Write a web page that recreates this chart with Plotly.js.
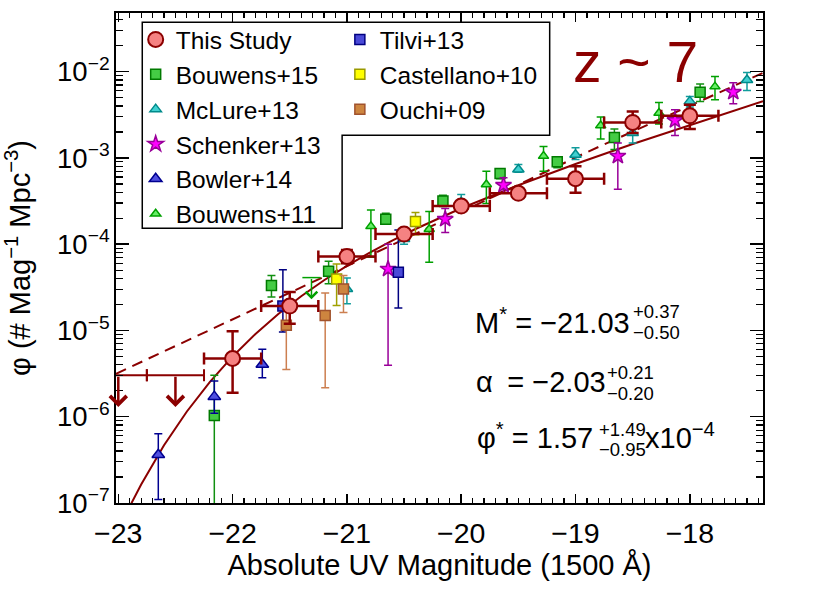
<!DOCTYPE html>
<html>
<head>
<meta charset="utf-8">
<script src="https://cdn.plot.ly/plotly-3.0.1.min.js"></script>
<style>html,body{margin:0;padding:0;background:#fff;}#lf{width:830px;height:593px;}</style>
</head>
<body>
<div id="lf"></div>
<script>
// z~7 UV luminosity function
var LF = document.getElementById('lf');

// This Study (binned points, x bins are +-0.25 mag)
var tsM = [-22.0, -21.5, -21.0, -20.5, -20.0, -19.5, -19.0, -18.5, -18.0];
var tsPhi = [4.73e-6, 1.92e-5, 7.2e-5, 1.31e-4, 2.77e-4, 3.89e-4, 5.74e-4, 2.58e-3, 3.08e-3];
var tsUp = [9.8e-6, 2.79e-5, 8.55e-5, 1.45e-4, 3.05e-4, 4.3e-4, 8.0e-4, 3.46e-3, 4.13e-3];
var tsDn = [1.9e-6, 1.2e-5, 6.0e-5, 1.17e-4, 2.5e-4, 3.5e-4, 3.96e-4, 1.95e-3, 2.17e-3];
var tsBin = 0.25;
// This Study upper limits
var limM = [-23.0, -22.5];
var limPhi = [3.03e-6, 3.03e-6];
var limTip = [1.3e-6, 1.3e-6];

// Schechter fit (solid) and dashed fit
var fitM = [-23.0, -22.9, -22.8, -22.6, -22.4, -22.2, -22.0, -21.8, -21.6, -21.4, -21.2, -21.0, -20.8, -20.6, -20.4, -20.2, -20.0, -19.5, -19.0, -18.5, -18.0, -17.5, -17.36];
var fitPhi = [4.8e-8, 9.1e-8, 1.64e-7, 4.67e-7, 1.15e-6, 2.52e-6, 5.0e-6, 9.12e-6, 1.55e-5, 2.49e-5, 3.82e-5, 5.62e-5, 8.0e-5, 1.11e-4, 1.5e-4, 2.0e-4, 2.61e-4, 4.83e-4, 8.49e-4, 1.45e-3, 2.41e-3, 3.96e-3, 4.54e-3];
var dashM = [-23.02, -20.59, -18.91, -17.36];
var dashPhi = [3.15e-6, 1.0e-4, 1.15e-3, 9.7e-3];

// Bouwens+15
var b15M = [-22.16, -21.66, -21.16, -20.66, -20.16, -19.66, -19.16, -18.66, -17.91];
var b15Phi = [1.03e-6, 3.31e-5, 4.86e-5, 1.95e-4, 3.17e-4, 6.61e-4, 9.02e-4, 1.73e-3, 5.79e-3];
var b15Up = [3.03e-6, 4.33e-5, 6.34e-5, 2.29e-4, 3.69e-4, 7.34e-4, 1.03e-3, 2.17e-3, 7.21e-3];
var b15Dn = [1e-9, 2.44e-5, 3.47e-5, 1.71e-4, 2.73e-4, 5.74e-4, 7.69e-4, 1.25e-3, 4.51e-3];

// McLure+13
var m13M = [-21.0, -20.5, -20.0, -19.5, -19.0, -18.5, -18.0, -17.5];
var m13Phi = [3.03e-5, 1.15e-4, 3.06e-4, 7.34e-4, 1.09e-3, 1.95e-3, 4.52e-3, 8.0e-3];
var m13Up = [4.06e-5, 1.3e-4, 3.78e-4, 8.4e-4, 1.31e-3, 2.4e-3, 5.15e-3, 9.75e-3];
var m13Dn = [2.04e-5, 1.0e-4, 2.5e-4, 6.84e-4, 9.6e-4, 1.49e-3, 3.9e-3, 6.04e-3];

// Schenker+13
var s13M = [-20.64, -20.14, -19.63, -18.63, -18.13, -17.62];
var s13Phi = [5.16e-5, 1.95e-4, 4.84e-4, 1.05e-3, 2.72e-3, 5.79e-3];
var s13Up = [1.0e-4, 2.59e-4, 5.9e-4, 1.49e-3, 3.62e-3, 7.46e-3];
var s13Dn = [3.96e-6, 1.37e-4, 3.89e-4, 4.33e-4, 1.82e-3, 4.25e-3];

// Bowler+14
var bw14M = [-22.65, -22.16, -21.74];
var bw14Phi = [3.63e-7, 1.71e-6, 4.04e-6];
var bw14Up = [6.34e-7, 2.59e-6, 6.05e-6];
var bw14Dn = [1.1e-7, 1.1e-6, 2.83e-6];

// Bouwens+11 (plus one upper limit)
var b11M = [-20.79, -20.28, -19.78, -19.28, -18.78, -18.27, -17.78];
var b11Phi = [1.61e-4, 1.49e-4, 4.93e-4, 1.05e-3, 2.37e-3, 3.31e-3, 6.71e-3];
var b11Up = [2.49e-4, 2.39e-4, 7.03e-4, 1.36e-3, 2.98e-3, 4.4e-3, 8.77e-3];
var b11Dn = [7.05e-5, 6.17e-5, 2.96e-4, 7.03e-4, 1.66e-3, 2.48e-3, 4.72e-3];
var b11LimM = [-21.31];
var b11LimPhi = [4.1e-5];
var b11LimTip = [2.3e-5];

// Tilvi+13
var t13M = [-21.56, -20.55];
var t13Phi = [1.92e-5, 4.73e-5];
var t13Up = [5.07e-5, 1.46e-4];
var t13Dn = [9.6e-6, 1.82e-5];

// Castellano+10
var c10M = [-21.09, -20.40];
var c10Phi = [3.96e-5, 1.83e-4];
var c10Up = [5.9e-5, 2.33e-4];
var c10Dn = [1.95e-5, 1.29e-4];

// Ouchi+09
var o09M = [-21.53, -21.19, -21.03];
var o09Phi = [1.15e-5, 1.49e-5, 3.03e-5];
var o09Up = [2.0e-5, 2.71e-5, 4.33e-5];
var o09Dn = [3.53e-6, 2.17e-6, 1.61e-5];

var DARKRED = '#8B0000';

function ebar(phi, up, dn, color, thick, w) {
    return {
        type: 'data', symmetric: false,
        array: up.map(function (u, i) { return u - phi[i]; }),
        arrayminus: dn.map(function (d, i) { return phi[i] - d; }),
        color: color, thickness: thick, width: w
    };
}

function pts(name, M, phi, up, dn, sym, size, fill, edge, ecol, lg, rank) {
    return {
        x: M, y: phi, type: 'scatter', mode: 'markers', name: name,
        legend: lg, legendrank: rank,
        marker: {symbol: sym, size: size, color: fill, line: {color: edge, width: 1.5}},
        error_y: ebar(phi, up, dn, ecol, 1.5, 4)
    };
}

var solidFit = {
    x: fitM, y: fitPhi, type: 'scatter', mode: 'lines', showlegend: false,
    line: {color: DARKRED, width: 2}
};
var dashFit = {
    x: dashM, y: dashPhi, type: 'scatter', mode: 'lines', showlegend: false,
    line: {color: DARKRED, width: 2, dash: '11px,7px'}
};

var B11 = pts('Bouwens+11', b11M, b11Phi, b11Up, b11Dn, 'triangle-up', 9, '#66EE66', '#00A000', '#00A000', 'legend', 6);
var M13 = pts('McLure+13', m13M, m13Phi, m13Up, m13Dn, 'triangle-up', 10, '#40D0D0', '#008B8B', '#109C9C', 'legend', 3);
var B15 = pts('Bouwens+15', b15M, b15Phi, b15Up, b15Dn, 'square', 10, '#44CC44', '#007A00', '#109010', 'legend', 2);
var S13 = pts('Schenker+13', s13M, s13Phi, s13Up, s13Dn, 'star', 12, '#FF00FF', '#990099', '#990099', 'legend', 4);
var BW14 = pts('Bowler+14', bw14M, bw14Phi, bw14Up, bw14Dn, 'triangle-up', 11, '#5050E0', '#000090', '#000090', 'legend', 5);
var T13 = pts('Tilvi+13', t13M, t13Phi, t13Up, t13Dn, 'square', 10, '#4A4AD8', '#000080', '#000080', 'legend2', 1);
var C10 = pts('Castellano+10', c10M, c10Phi, c10Up, c10Dn, 'square', 10, '#FFFF00', '#999900', '#A0A000', 'legend2', 2);
var O09 = pts('Ouchi+09', o09M, o09Phi, o09Up, o09Dn, 'square', 10, '#CD853F', '#A0522D', '#CC7F50', 'legend2', 3);

var b11Cap = {
    x: b11LimM, y: b11LimPhi, type: 'scatter', mode: 'markers', showlegend: false,
    marker: {symbol: 'line-ew', size: 13, color: '#00A000', line: {color: '#00A000', width: 1.5}}
};

var limits = {
    x: limM, y: limPhi, type: 'scatter', mode: 'markers', showlegend: false,
    marker: {size: 1, opacity: 0},
    error_x: {type: 'constant', value: tsBin, color: DARKRED, thickness: 2, width: 6}
};

var thisStudy = {
    x: tsM, y: tsPhi, type: 'scatter', mode: 'markers', name: 'This Study',
    legend: 'legend', legendrank: 1,
    marker: {symbol: 'circle', size: 15, color: '#F58282', line: {color: DARKRED, width: 2}},
    error_x: {type: 'constant', value: tsBin, color: DARKRED, thickness: 2.5, width: 6},
    error_y: ebar(tsPhi, tsUp, tsDn, DARKRED, 2.5, 6)
};

var data = [dashFit, solidFit, B11, M13, B15, S13, BW14, T13, C10, O09, b11Cap, limits, thisStudy];

// downward arrows for upper limits
var arrows = [];
limM.forEach(function (m, i) {
    arrows.push({x: m, y: Math.log10(limTip[i]), ax: m, ay: Math.log10(limPhi[i]),
        xref: 'x', yref: 'y', axref: 'x', ayref: 'y', text: '', showarrow: true,
        arrowhead: 4, arrowsize: 1.3, arrowwidth: 2.5, arrowcolor: DARKRED, standoff: 0, startstandoff: 0});
});
b11LimM.forEach(function (m, i) {
    arrows.push({x: m, y: Math.log10(b11LimTip[i]), ax: m, ay: Math.log10(b11LimPhi[i]),
        xref: 'x', yref: 'y', axref: 'x', ayref: 'y', text: '', showarrow: true,
        arrowhead: 4, arrowsize: 1.5, arrowwidth: 1.5, arrowcolor: '#00A000', standoff: 0, startstandoff: 0});
});

function note(text, x, y, size, anchor, color) {
    return {text: text, x: x, y: y, xref: 'paper', yref: 'paper', showarrow: false,
        xanchor: anchor || 'left', yanchor: 'middle',
        font: {size: size, color: color || 'black'}};
}

var notes = [
    note('z ~ 7', 0.803, 0.900, 57, 'center', DARKRED),
    note('M<sup>*</sup> = \u221221.03', 0.5514, 0.371, 29),
    note('+0.37', 0.7955, 0.391, 18.5),
    note('\u22120.50', 0.7955, 0.348, 18.5),
    note('\u03b1\u2002= \u22122.03', 0.5529, 0.247, 29),
    note('+0.21', 0.7553, 0.267, 18.5),
    note('\u22120.20', 0.7553, 0.224, 18.5),
    note('\u03c6<sup>*</sup> = 1.57', 0.5544, 0.137, 29),
    note('+1.49', 0.7429, 0.150, 18.5),
    note('\u22120.95', 0.7429, 0.109, 18.5),
    note('x10<sup>\u22124</sup>', 0.8139, 0.137, 29)
];

var axisBase = {
    ticks: 'inside', tickcolor: 'black', tickwidth: 1.5,
    showline: true, linewidth: 2, linecolor: 'black', mirror: 'allticks',
    showgrid: false, zeroline: false
};

var layout = {
    width: 830, height: 593,
    margin: {l: 116, r: 66.5, t: 12.5, b: 89.5},
    paper_bgcolor: 'white', plot_bgcolor: 'white',
    font: {family: 'Liberation Sans, Arial, sans-serif', color: 'black', size: 24},
    xaxis: Object.assign({}, axisBase, {
        range: [-23.02, -17.36], tick0: -23, dtick: 1, ticklen: 9,
        tickfont: {size: 28.5}, ticklabelstandoff: 4,
        minor: {dtick: 0.1, ticks: 'inside', ticklen: 5, tickwidth: 1.2, tickcolor: 'black', showgrid: false},
        title: {text: 'Absolute UV Magnitude (1500 \u00c5)', font: {size: 29}, standoff: 0}
    }),
    yaxis: Object.assign({}, axisBase, {
        type: 'log', range: [-7, -1.32], dtick: 1, exponentformat: 'power', ticklen: 13,
        tickfont: {size: 22},
        minor: {dtick: 'D1', ticks: 'inside', ticklen: 7, tickwidth: 1.2, tickcolor: 'black', showgrid: false},
        title: {text: '\u03c6 (# Mag<sup>\u22121</sup> Mpc<sup>\u22123</sup>)', font: {size: 29}, standoff: 19}
    }),
    legend: {x: 0.0304, y: 0.9918, xanchor: 'left', yanchor: 'top', bgcolor: 'rgba(0,0,0,0)',
        borderwidth: 0, font: {size: 24.5}, tracegroupgap: 0},
    legend2: {x: 0.346, y: 0.9918, xanchor: 'left', yanchor: 'top', bgcolor: 'rgba(0,0,0,0)',
        borderwidth: 0, font: {size: 24.5}, tracegroupgap: 0},
    // L-shaped legend frame
    shapes: [{
        type: 'path', xref: 'paper', yref: 'paper',
        path: 'M 0.0406 0.9813 L 0.6703 0.9813 L 0.6703 0.7505 L 0.3495 0.7505 L 0.3495 0.5605 L 0.0406 0.5605 Z',
        line: {color: 'black', width: 1.5}, fillcolor: 'white'
    }],
    annotations: arrows.concat(notes)
};

var config = {staticPlot: true, displayModeBar: false};
Plotly.newPlot(LF, data, layout, config);
</script>
</body>
</html>
